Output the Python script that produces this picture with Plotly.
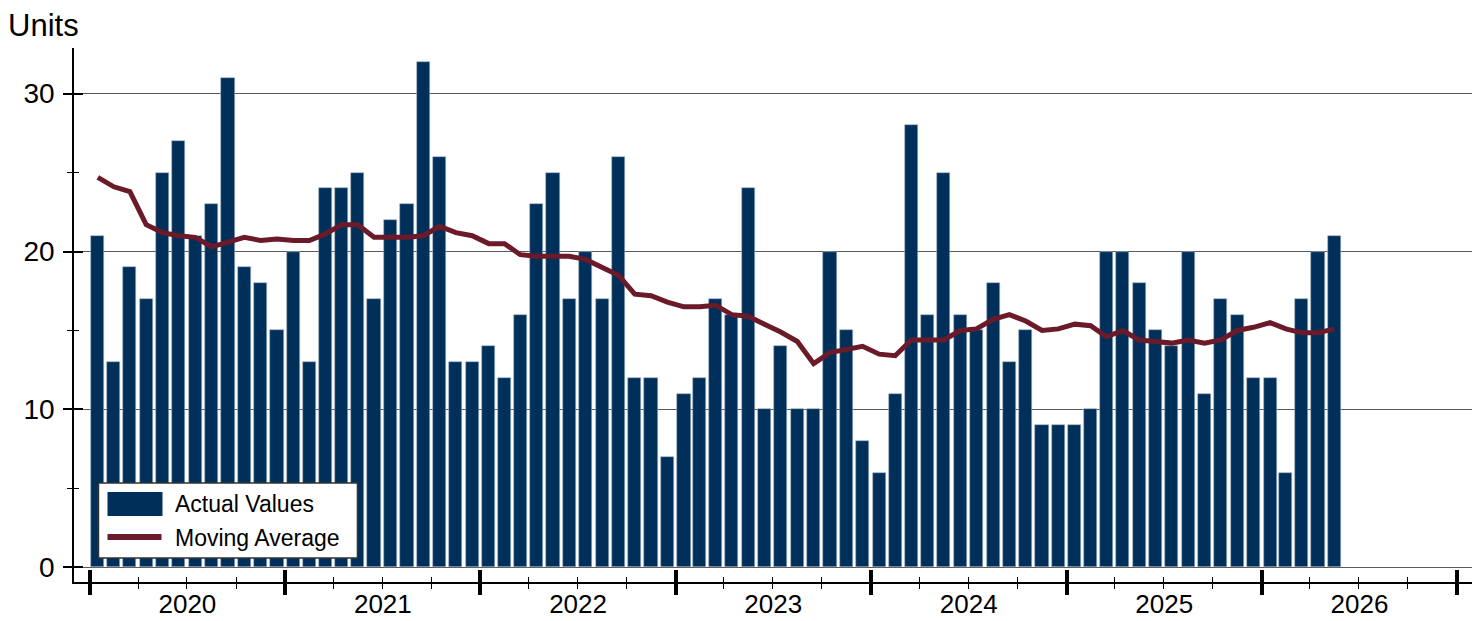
import plotly.graph_objects as go
import pandas as pd

# ---------------- data ----------------
actual_2020 = [21, 13, 19, 17, 25, 27, 21, 23, 31, 19, 18, 15]
actual_2021 = [20, 13, 24, 24, 25, 17, 22, 23, 32, 26, 13, 13]
actual_2022 = [14, 12, 16, 23, 25, 17, 20, 17, 26, 12, 12, 7]
actual_2023 = [11, 12, 17, 16, 24, 10, 14, 10, 10, 20, 15, 8]
actual_2024 = [6, 11, 28, 16, 25, 16, 15, 18, 13, 15, 9, 9]
actual_2025 = [9, 10, 20, 20, 18, 15, 14, 20, 11, 17, 16, 12]
actual_2026 = [12, 6, 17, 20, 21]

mavg_2020 = [24.7, 24.1, 23.8, 21.7, 21.2, 21.0, 20.9, 20.3, 20.6, 20.9, 20.7, 20.8]
mavg_2021 = [20.7, 20.7, 21.1, 21.7, 21.7, 20.9, 20.9, 20.9, 21.0, 21.6, 21.2, 21.0]
mavg_2022 = [20.5, 20.5, 19.8, 19.7, 19.7, 19.7, 19.5, 19.0, 18.5, 17.3, 17.2, 16.8]
mavg_2023 = [16.5, 16.5, 16.6, 16.0, 15.9, 15.4, 14.9, 14.3, 12.9, 13.6, 13.8, 14.0]
mavg_2024 = [13.5, 13.4, 14.4, 14.4, 14.4, 15.0, 15.1, 15.7, 16.0, 15.6, 15.0, 15.1]
mavg_2025 = [15.4, 15.3, 14.6, 15.0, 14.4, 14.3, 14.2, 14.4, 14.2, 14.4, 15.0, 15.2]
mavg_2026 = [15.5, 15.1, 14.85, 14.85, 15.1]

actual = actual_2020 + actual_2021 + actual_2022 + actual_2023 + actual_2024 + actual_2025 + actual_2026
moving_avg = mavg_2020 + mavg_2021 + mavg_2022 + mavg_2023 + mavg_2024 + mavg_2025 + mavg_2026
months = pd.date_range(start="2020-01-01", periods=len(actual), freq="MS")

y_ticks = [0, 10, 20, 30]
series_names = ["Actual Values", "Moving Average"]
y_title = "Units"

# ---------------- style ----------------
BAR_COLOR = "#00305a"
LINE_COLOR = "#6b1a2a"
FONT = "Arial, Liberation Sans, sans-serif"
OFF = 8                      # page body margin of the browser
W, H = 1483 - OFF, 621 - OFF
PL, PR, PT, PB = 73.5, 1471.7, 47.7, 582   # plot area edges on screen
ML, MR, MT, MB = PL - OFF, W - (PR - OFF), PT - OFF, H - (PB - OFF)
PW, PH = PR - PL, PB - PT
DAY_MS = 86400000
X_RANGE = ["2019-12-03", "2027-01-29"]
Y_RANGE = [-0.93, 32.89]


def fx(p):
    return (p - PL) / PW


def fy(p):
    return (PB - p) / PH


fig = go.Figure()
fig.add_trace(go.Bar(
    x=months, y=actual, name=series_names[0],
    xperiod="M1", xperiodalignment="middle",
    width=[24.6 * DAY_MS] * len(actual),
    marker=dict(color=BAR_COLOR, line=dict(width=0.6, color="#9fb2c6")),
    showlegend=False,
))
fig.add_trace(go.Scatter(
    x=months, y=moving_avg, name=series_names[1], mode="lines",
    xperiod="M1", xperiodalignment="middle",
    line=dict(color=LINE_COLOR, width=5),
    xaxis="x2", yaxis="y2", showlegend=False,
))

common_x = dict(type="date", range=X_RANGE, tick0="2020-01-01", dtick="M12",
                showgrid=False, zeroline=False, automargin=False)
common_y = dict(range=Y_RANGE, tick0=0, dtick=10, zeroline=False, automargin=False)

fig.update_layout(
    width=W, height=H, autosize=False,
    margin=dict(l=ML, r=MR, t=MT, b=MB, pad=0, autoexpand=False),
    plot_bgcolor="white", paper_bgcolor="white",
    font=dict(family=FONT, color="black"),
    bargap=0,
    xaxis=dict(**common_x, anchor="y",
               showline=True, linecolor="black", linewidth=1.5,
               ticks="outside", ticklen=11, tickwidth=4, tickcolor="black",
               ticklabelmode="period", tickformat="%Y",
               tickfont=dict(size=26, family=FONT, color="black"),
               ticklabelstandoff=-13,
               minor=dict(dtick="M3", tick0="2020-01-01", ticks="outside",
                          ticklen=5, tickwidth=1.3, tickcolor="black", showgrid=False)),
    xaxis2=dict(**common_x, overlaying="x", anchor="y2", side="bottom",
                showline=False, showticklabels=False,
                ticks="inside", ticklen=12, tickwidth=4, tickcolor="black",
                minor=dict(dtick="M3", tick0="2020-01-01", ticks="inside",
                           ticklen=5, tickwidth=1.3, tickcolor="black", showgrid=False)),
    yaxis=dict(**common_y, anchor="x",
               showline=True, linecolor="black", linewidth=1.5,
               showgrid=True, gridcolor="#5a5a5a", gridwidth=1,
               tickvals=y_ticks,
               ticks="outside", ticklen=9, tickwidth=1.8, tickcolor="black",
               tickfont=dict(size=28, family=FONT, color="black"),
               ticklabelstandoff=3,
               minor=dict(dtick=5, tick0=0, ticks="outside", ticklen=5,
                          tickwidth=1.3, tickcolor="black", showgrid=False)),
    yaxis2=dict(**common_y, overlaying="y", anchor="x2", side="left",
                showline=False, showgrid=False, showticklabels=False,
                ticks="inside", ticklen=9, tickwidth=1.8, tickcolor="black",
                minor=dict(dtick=5, tick0=0, ticks="inside", ticklen=5,
                           tickwidth=1.3, tickcolor="black", showgrid=False)),
)

# custom legend (box, swatches, labels)
shapes = [
    dict(type="rect", xref="paper", yref="paper",
         x0=fx(98), x1=fx(357), y0=fy(558), y1=fy(483),
         line=dict(color="#333333", width=1.5), fillcolor="white", layer="above"),
    dict(type="rect", xref="paper", yref="paper",
         x0=fx(107), x1=fx(162), y0=fy(516), y1=fy(492),
         line=dict(width=0), fillcolor=BAR_COLOR, layer="above"),
    dict(type="line", xref="paper", yref="paper",
         x0=fx(107), x1=fx(161), y0=fy(537), y1=fy(537),
         line=dict(color=LINE_COLOR, width=6), layer="above"),
]
annotations = [
    dict(text=series_names[0], xref="paper", yref="paper", x=fx(173), y=fy(504),
         xanchor="left", yanchor="middle", showarrow=False,
         font=dict(size=23, family=FONT, color="black")),
    dict(text=series_names[1], xref="paper", yref="paper", x=fx(173), y=fy(538),
         xanchor="left", yanchor="middle", showarrow=False,
         font=dict(size=23, family=FONT, color="black")),
    dict(text=y_title, xref="paper", yref="paper", x=fx(5), y=fy(25),
         xanchor="left", yanchor="middle", showarrow=False,
         font=dict(size=31, family=FONT, color="black")),
]
fig.update_layout(shapes=shapes, annotations=annotations)

fig.write_html("out.html")
